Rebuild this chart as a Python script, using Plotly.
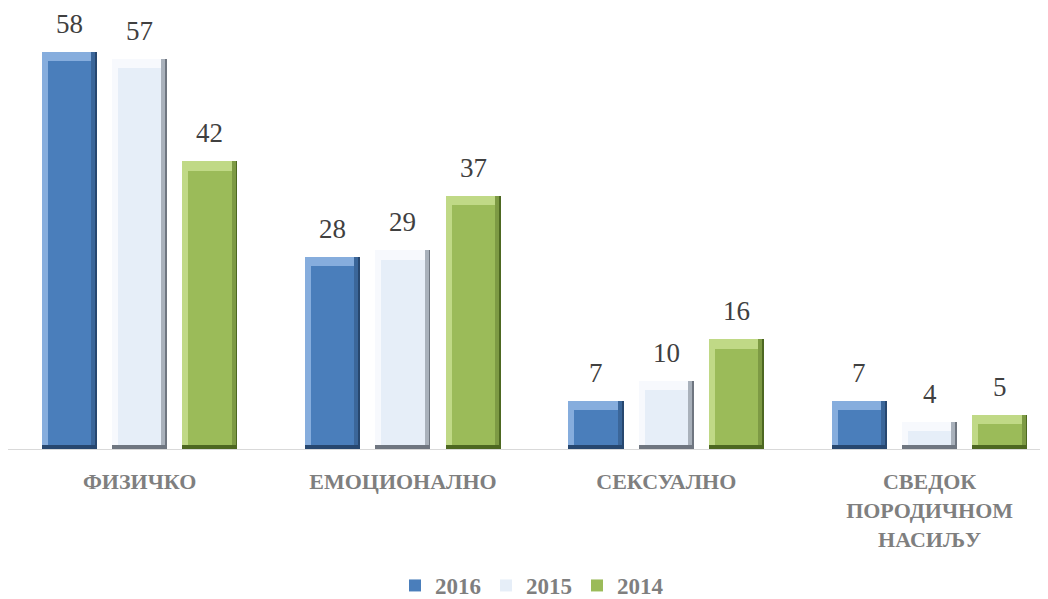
import plotly.graph_objects as go

categories = ["ФИЗИЧКО", "ЕМОЦИОНАЛНО", "СЕКСУАЛНО", "СВЕДОК<br>ПОРОДИЧНОМ<br>НАСИЉУ"]
series_names = ["2016", "2015", "2014"]
values_2016 = [58, 28, 7, 7]
values_2015 = [57, 29, 10, 4]
values_2014 = [42, 37, 16, 5]

series_values = [values_2016, values_2015, values_2014]
face_colors = ["#4a7ebb", "#e6eef8", "#9bbb59"]
light_colors = ["#86addd", "#f7f9fd", "#c0d986"]
dark_colors = ["#27476f", "#6f7680", "#4d6821"]
mid_colors = ["#3b6699", "#a9b1bb", "#7d9a44"]

FONT = "Liberation Serif"

x_idx = list(range(len(categories)))
slot = 0.267
bar_w = 0.209
side = 0.022
top_bev = 1.35
bot_bev = 0.55

fig = go.Figure()
annotations = []
for k, (name, vals) in enumerate(zip(series_names, series_values)):
    off = (k - 1) * slot
    xs = [i + off for i in x_idx]
    fig.add_trace(go.Bar(x=xs, y=vals, width=bar_w, marker=dict(color=dark_colors[k], line=dict(width=0)),
                         showlegend=False, hoverinfo="skip"))
    fig.add_trace(go.Bar(x=xs, y=[v - bot_bev for v in vals], base=[bot_bev] * len(vals),
                         width=bar_w - side * 0.6, marker=dict(color=mid_colors[k], line=dict(width=0)),
                         showlegend=False, hoverinfo="skip"))
    fig.add_trace(go.Bar(x=[x - side / 2 for x in xs], y=[v - bot_bev for v in vals], base=[bot_bev] * len(vals),
                         width=bar_w - side, marker=dict(color=light_colors[k], line=dict(width=0)),
                         showlegend=False, hoverinfo="skip"))
    fig.add_trace(go.Bar(x=xs, y=[v - top_bev - bot_bev for v in vals], base=[bot_bev] * len(vals),
                         width=bar_w - 2 * side, name="<b>%s</b>" % name,
                         marker=dict(color=face_colors[k], line=dict(width=0)),
                         showlegend=True))
    for x, v in zip(xs, vals):
        annotations.append(dict(x=x, y=v, text=str(v), showarrow=False, yanchor="bottom", yshift=11,
                                font=dict(family=FONT, size=27, color="#404040")))

fig.update_layout(
    width=1048, height=599,
    barmode="overlay",
    plot_bgcolor="white", paper_bgcolor="white",
    margin=dict(l=0, r=0, t=30, b=147),
    xaxis=dict(range=[-0.5, 3.48], tickvals=x_idx, ticktext=["<b>%s</b>" % c for c in categories],
               showgrid=False, zeroline=False, showline=True, linecolor="#d9d9d9", linewidth=1,
               ticks="", ticklabelstandoff=13, automargin=False,
               tickfont=dict(family=FONT, size=22, color="#7f7f7f")),
    yaxis=dict(range=[0, 60], visible=False, automargin=False),
    legend=dict(orientation="h", x=0.5, xanchor="center", y=-0.28, yanchor="top",
                font=dict(family=FONT, size=23, color="#7f7f7f"),
                itemwidth=30, traceorder="normal"),
    annotations=annotations,
    bargap=0,
)

fig.write_html("out.html")
